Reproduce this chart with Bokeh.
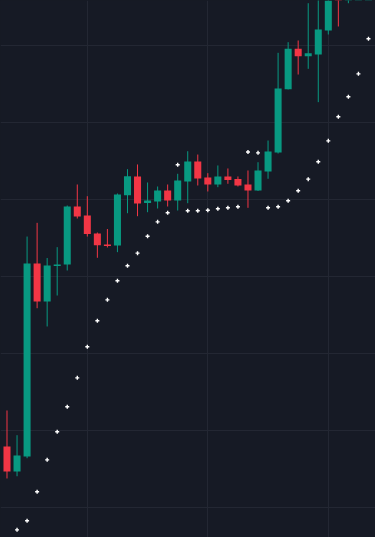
from bokeh.plotting import figure
from bokeh.models import ColumnDataSource, FixedTicker, GlobalInlineStyleSheet
from bokeh.embed import file_html
from bokeh.resources import INLINE

# --- data ---
bar_index = list(range(37))
open_ = [107.92, 104.68, 106.62, 131.69, 126.75, 131.36, 131.56, 139.09, 137.92, 135.58,
         134.16, 134.03, 140.56, 142.99, 139.55, 139.74, 141.17, 139.87, 142.34, 144.94,
         142.86, 141.95, 142.99, 142.66, 141.95, 141.17, 143.64, 146.10, 154.32, 159.57,
         158.61, 158.83, 161.95, 170.00, 169.00, 170.00, 173.00]
high = [112.60, 109.39, 135.19, 136.97, 132.40, 133.81, 139.22, 141.95, 140.43, 135.71,
        136.17, 140.78, 143.94, 144.55, 142.21, 141.69, 141.95, 143.34, 146.27, 145.84,
        143.42, 144.42, 144.03, 142.99, 143.77, 144.84, 147.66, 159.05, 160.43, 160.65,
        165.49, 167.14, 169.00, 171.00, 172.00, 174.00, 176.00]
low = [103.77, 104.06, 106.40, 125.88, 123.51, 127.53, 130.78, 137.53, 135.19, 132.43,
       133.77, 133.16, 138.22, 137.83, 138.35, 138.83, 139.09, 138.57, 139.52, 141.82,
       141.04, 141.60, 142.04, 141.69, 138.92, 141.10, 142.69, 145.97, 154.29, 156.23,
       156.97, 152.64, 161.43, 162.47, 165.49, 168.00, 170.00]
close = [104.68, 106.75, 131.69, 126.75, 131.43, 131.56, 139.09, 137.79, 135.52, 134.06,
         133.96, 140.65, 143.03, 139.48, 139.87, 141.17, 139.87, 142.47, 144.94, 142.73,
         141.95, 142.99, 142.53, 141.82, 141.17, 143.77, 146.23, 154.42, 159.57, 158.61,
         159.00, 162.08, 167.50, 167.00, 170.00, 173.00, 175.00]

sar_index = list(range(1, 37))
sar = [97.10, 98.27, 102.04, 106.19, 109.83, 113.08, 116.84, 120.87, 124.25, 126.97,
       129.44, 131.39, 133.03, 135.23, 137.10, 138.27, 144.51, 138.53, 138.53, 138.61,
       138.79, 138.92, 139.05, 146.17, 146.06, 138.92, 139.05, 139.84, 141.13, 142.64,
       144.90, 147.62, 150.74, 153.34, 156.32, 160.87]

price_grid = [100, 110, 120, 130, 140, 150, 160]
time_grid = [8, 20, 32]

UP = "#089981"
DOWN = "#f23645"
BG = "#161a25"
GRID = "#232733"

colors = [UP if c >= o else DOWN for o, c in zip(open_, close)]
src = ColumnDataSource(dict(
    x=bar_index, open=open_, high=high, low=low, close=close,
    top=[max(o, c) for o, c in zip(open_, close)],
    bottom=[min(o, c) for o, c in zip(open_, close)],
    color=colors,
))
sar_src = ColumnDataSource(dict(x=sar_index, y=sar))

p = figure(width=375, height=537, output_backend="svg", toolbar_location=None,
           x_range=(-0.647, 36.70), y_range=(96.104, 165.844),
           min_border=0, min_border_left=0, min_border_right=0,
           min_border_top=0, min_border_bottom=0)
p.background_fill_color = BG
p.border_fill_color = BG
p.outline_line_color = None
p.xaxis.visible = False
p.yaxis.visible = False
p.xgrid.ticker = FixedTicker(ticks=time_grid)
p.ygrid.ticker = FixedTicker(ticks=price_grid)
p.grid.grid_line_color = GRID
p.grid.grid_line_width = 1

p.segment(x0="x", y0="high", x1="x", y1="low", color="color", line_width=1, source=src)
p.vbar(x="x", width=0.7, top="top", bottom="bottom", fill_color="color",
       line_color=None, source=src)
p.scatter(x="x", y="y", marker="cross", size=4, line_width=1.4, color="white",
          source=sar_src)

p.stylesheets = [GlobalInlineStyleSheet(css=f"html, body {{ margin: 0; padding: 0; background: {BG}; overflow: hidden; }}")]

open("out.html", "w").write(file_html(p, INLINE))
